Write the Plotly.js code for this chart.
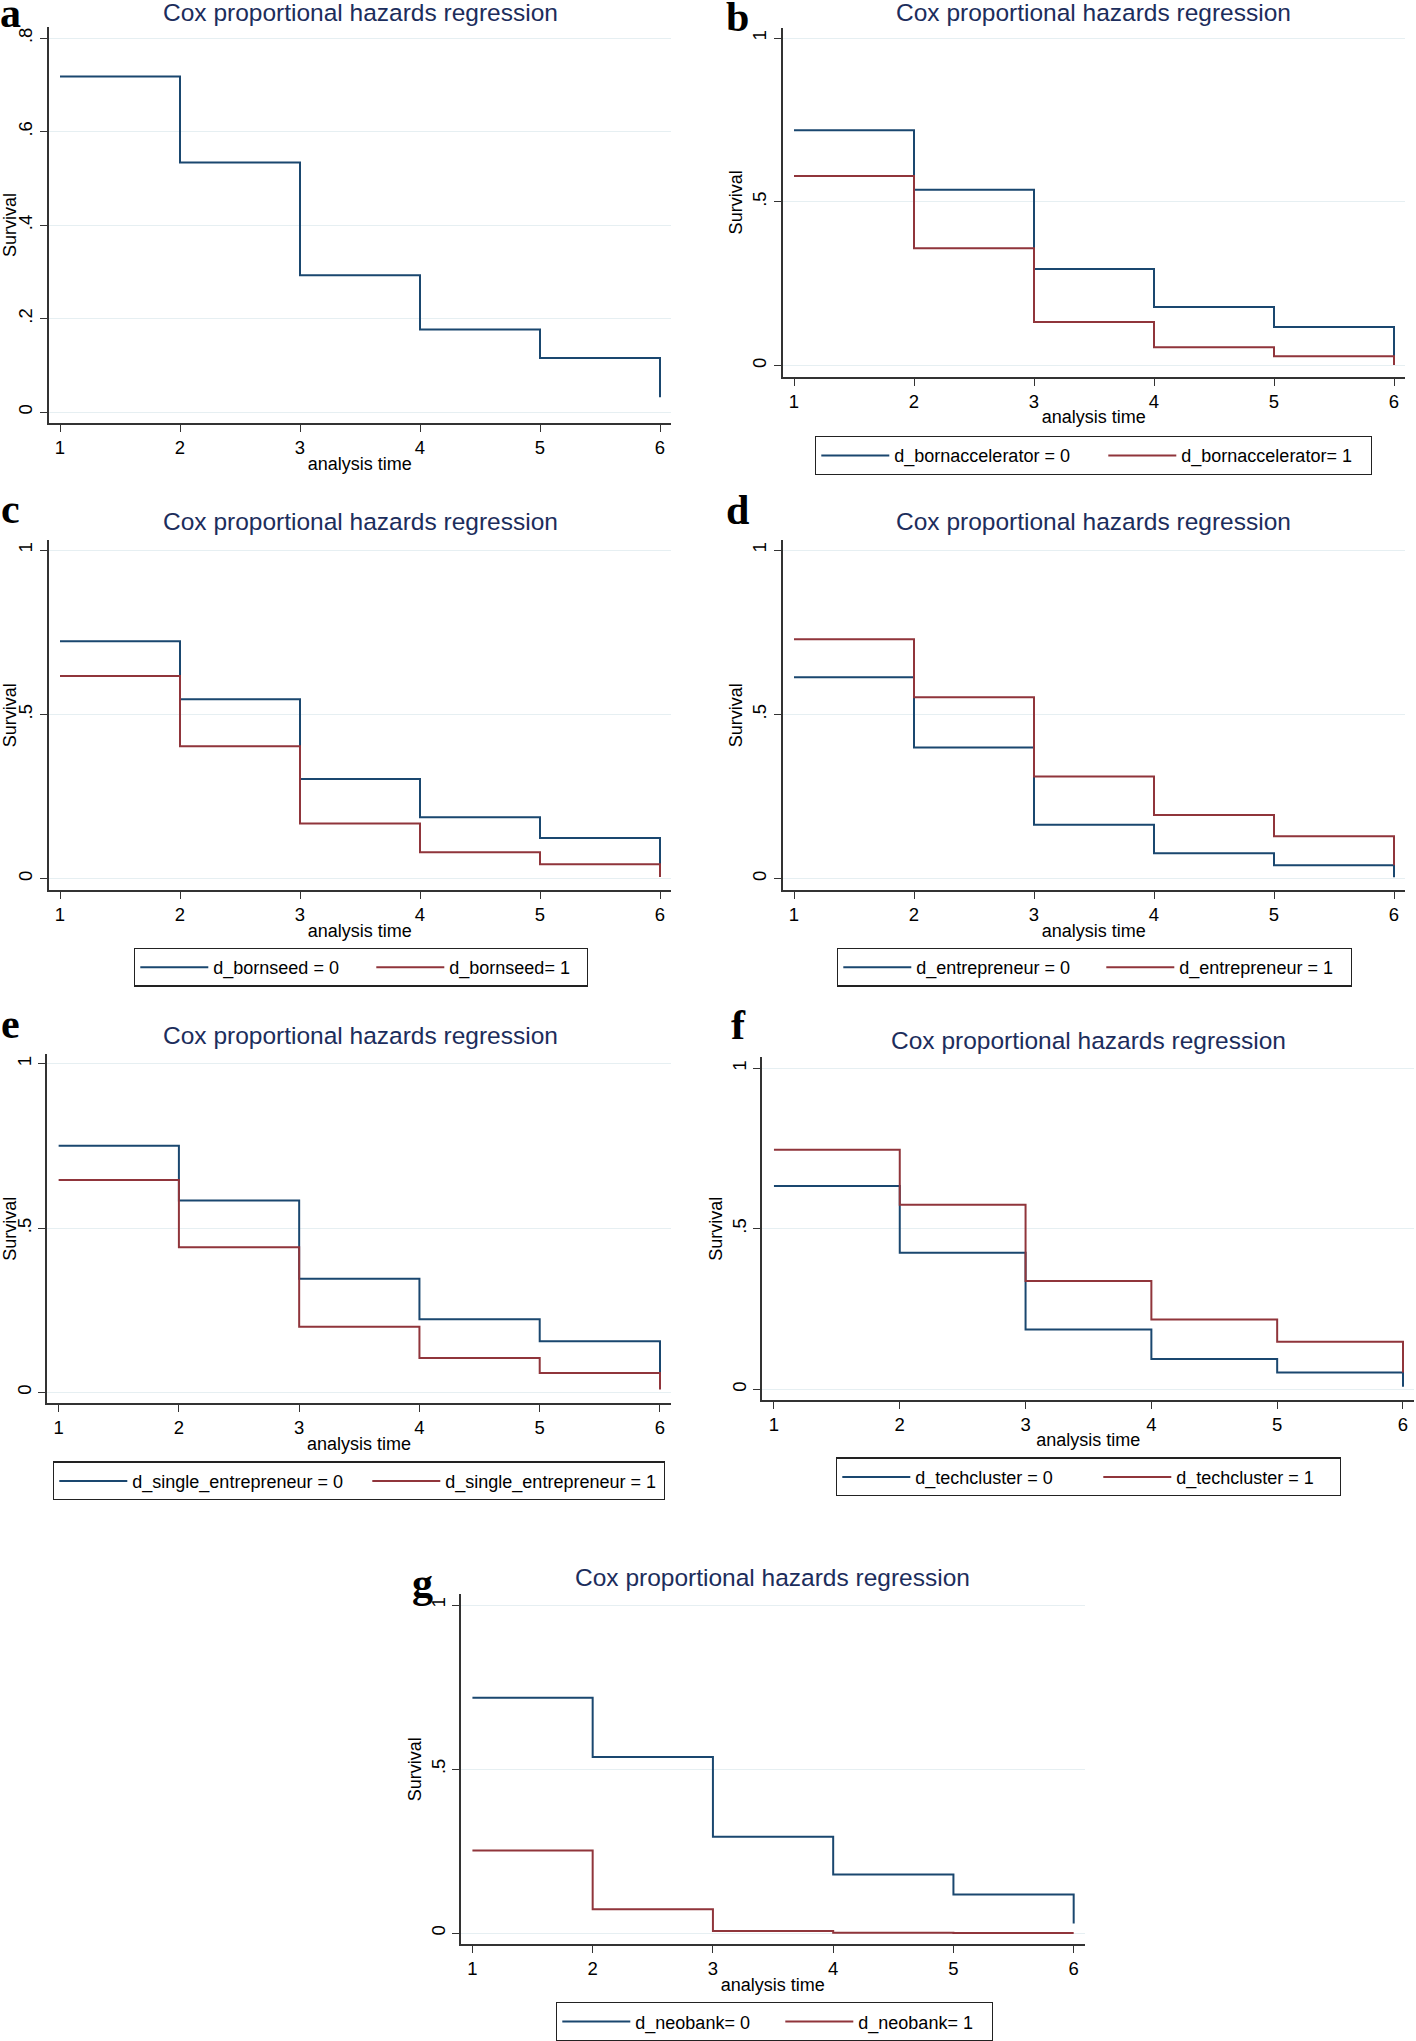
<!DOCTYPE html>
<html><head><meta charset="utf-8">
<script src="https://cdn.plot.ly/plotly-3.0.1.min.js"></script>
<style>html,body{margin:0;padding:0;background:#fff}#chart{width:1416px;height:2041px}</style>
</head><body><div id="chart"></div>
<script>
// ---- data ----
const times = [1, 2, 3, 4, 5, 6];
const xTickLabels = ['1', '2', '3', '4', '5', '6'];
const survAll = [0.718, 0.534, 0.293, 0.177, 0.116, 0.032];
const bornAccel0 = [0.719, 0.537, 0.295, 0.179, 0.118, 0.004];
const bornAccel1 = [0.579, 0.358, 0.133, 0.056, 0.029, 0.002];
const bornSeed0 = [0.723, 0.546, 0.303, 0.187, 0.124, 0.044];
const bornSeed1 = [0.617, 0.403, 0.168, 0.080, 0.044, 0.005];
const entrepreneur0 = [0.613, 0.399, 0.164, 0.077, 0.041, 0.004];
const entrepreneur1 = [0.729, 0.552, 0.311, 0.194, 0.129, 0.041];
const singleEntr0 = [0.751, 0.584, 0.346, 0.223, 0.156, 0.059];
const singleEntr1 = [0.647, 0.442, 0.200, 0.105, 0.059, 0.009];
const techCluster0 = [0.633, 0.425, 0.186, 0.094, 0.052, 0.008];
const techCluster1 = [0.746, 0.575, 0.337, 0.217, 0.148, 0.052];
const neobank0 = [0.718, 0.537, 0.294, 0.179, 0.118, 0.029];
const neobank1 = [0.252, 0.073, 0.006, 0.001, 0.000, 0.000];
const yTicksA = [0, 0.2, 0.4, 0.6, 0.8];
const yTickLabelsA = ['0', '.2', '.4', '.6', '.8'];
const yTicks = [0, 0.5, 1];
const yTickLabels = ['0', '.5', '1'];
const titleText = 'Cox proportional hazards regression';
const xTitle = 'analysis time';
const yTitle = 'Survival';

// ---- styling ----
const W = 1416, H = 2041;
const BLUE = '#1a476f', RED = '#90353b', NAVY = '#1c2d5c';
const SANS = 'Liberation Sans, Arial, sans-serif';
const px = x => x / W, py = y => 1 - y / H;

const panels = [
  {letter: 'a', xd: [48.6, 670.8], yd: [27, 424], yr: [-0.023, 0.824], yt: yTicksA, ytt: yTickLabelsA,
   title: [360.5, 13], lpos: [10, 13],
   series: [{y: survAll, c: BLUE, name: 'Survival'}], legend: null},
  {letter: 'b', xd: [782.6, 1404.8], yd: [28, 377.7], yr: [-0.034, 1.031], yt: yTicks, ytt: yTickLabels,
   title: [1093, 13], lpos: [737, 17],
   series: [{y: bornAccel0, c: BLUE, name: 'd_bornaccelerator = 0', w: 204},
            {y: bornAccel1, c: RED, name: 'd_bornaccelerator= 1', w: 184}],
   legend: {left: 815, top: 437}},
  {letter: 'c', xd: [48.6, 670.8], yd: [541.7, 892.3], yr: [-0.035, 1.030], yt: yTicks, ytt: yTickLabels,
   title: [360.5, 523], lpos: [10, 510],
   series: [{y: bornSeed0, c: BLUE, name: 'd_bornseed = 0', w: 153},
            {y: bornSeed1, c: RED, name: 'd_bornseed= 1', w: 132}],
   legend: {left: 134, top: 950}},
  {letter: 'd', xd: [782.6, 1404.8], yd: [541.7, 892.3], yr: [-0.035, 1.030], yt: yTicks, ytt: yTickLabels,
   title: [1093, 523], lpos: [737, 511],
   series: [{y: entrepreneur0, c: BLUE, name: 'd_entrepreneur = 0', w: 180},
            {y: entrepreneur1, c: RED, name: 'd_entrepreneur = 1', w: 166}],
   legend: {left: 837, top: 950}},
  {letter: 'e', xd: [47.2, 670.8], yd: [1056.7, 1406.7], yr: [-0.033, 1.030], yt: yTicks, ytt: yTickLabels,
   title: [360, 1038], lpos: [10, 1027],
   series: [{y: singleEntr0, c: BLUE, name: 'd_single_entrepreneur = 0', w: 230},
            {y: singleEntr1, c: RED, name: 'd_single_entrepreneur = 1', w: 213}],
   legend: {left: 53, top: 1465}},
  {letter: 'f', xd: [762, 1414.3], yd: [1060, 1403.3], yr: [-0.033, 1.034], yt: yTicks, ytt: yTickLabels,
   title: [1088, 1043], lpos: [738, 1028],
   series: [{y: techCluster0, c: BLUE, name: 'd_techcluster = 0', w: 178},
            {y: techCluster1, c: RED, name: 'd_techcluster = 1', w: 158}],
   legend: {left: 836, top: 1461}},
  {letter: 'g', xd: [461, 1084.5], yd: [1598.3, 1949], yr: [-0.034, 1.033], yt: yTicks, ytt: yTickLabels,
   title: [773, 1581], lpos: [422, 1587],
   series: [{y: neobank0, c: BLUE, name: 'd_neobank= 0', w: 140},
            {y: neobank1, c: RED, name: 'd_neobank= 1', w: 128}],
   legend: {left: 556, top: 2007}}
];

const data = [];
const layout = {
  width: W, height: H,
  margin: {l: 0, r: 0, t: 0, b: 0},
  paper_bgcolor: '#ffffff', plot_bgcolor: '#ffffff',
  font: {family: SANS, size: 18, color: '#000'},
  annotations: [], showlegend: true
};

let legendIdx = 0;
panels.forEach((p, i) => {
  const n = i === 0 ? '' : String(i + 1);
  const xa = 'xaxis' + n, ya = 'yaxis' + n;
  layout[xa] = {
    domain: [px(p.xd[0]), px(p.xd[1])], anchor: 'y' + n, range: [0.905, 6.09],
    tickmode: 'array', tickvals: times, ticktext: xTickLabels,
    ticks: 'outside', ticklen: 7, tickwidth: 1.3, tickcolor: '#333',
    showline: true, linecolor: '#333', linewidth: 1.5, showgrid: false, zeroline: false,
    tickfont: {family: SANS, size: 18.5, color: '#000'},
    title: {text: xTitle, font: {family: SANS, size: 18, color: '#000'}, standoff: 0},
    fixedrange: true
  };
  layout[ya] = {
    domain: [py(p.yd[1]), py(p.yd[0])], anchor: 'x' + n, range: p.yr,
    tickmode: 'array', tickvals: p.yt, ticktext: p.ytt, tickangle: -90,
    ticks: 'outside', ticklen: 7, tickwidth: 1.3, tickcolor: '#333',
    showline: true, linecolor: '#333', linewidth: 1.5,
    showgrid: true, gridcolor: '#e6eff2', gridwidth: 1.3, zeroline: false,
    tickfont: {family: SANS, size: 18.5, color: '#000'},
    title: {text: yTitle, font: {family: SANS, size: 18, color: '#000'}, standoff: 2},
    fixedrange: true
  };
  let lname = null;
  if (p.legend) {
    legendIdx += 1;
    lname = legendIdx === 1 ? 'legend' : 'legend' + legendIdx;
    layout[lname] = {
      x: px(p.legend.left), y: py(p.legend.top), xanchor: 'left', yanchor: 'top',
      orientation: 'h', bordercolor: '#222', borderwidth: 1.3, bgcolor: '#fff',
      font: {family: SANS, size: 18, color: '#000'}, itemwidth: 68, traceorder: 'normal',
      itemclick: false, itemdoubleclick: false
    };
  }
  p.series.forEach(s => {
    const tr = {
      type: 'scatter', mode: 'lines', x: times, y: s.y, name: s.name,
      line: {color: s.c, width: 2, shape: 'hv'},
      xaxis: 'x' + n, yaxis: 'y' + n, hoverinfo: 'x+y+name'
    };
    if (lname) { tr.legend = lname; tr.legendwidth = s.w; tr.showlegend = true; }
    else tr.showlegend = false;
    data.push(tr);
  });
  layout.annotations.push({
    xref: 'paper', yref: 'paper', x: px(p.title[0]), y: py(p.title[1]),
    xanchor: 'center', yanchor: 'middle', showarrow: false,
    text: titleText, font: {family: SANS, size: 24.5, color: NAVY}
  });
  layout.annotations.push({
    xref: 'paper', yref: 'paper', x: px(p.lpos[0]), y: py(p.lpos[1]),
    xanchor: 'center', yanchor: 'middle', showarrow: false,
    text: '<b>' + p.letter + '</b>', font: {family: 'Liberation Serif, Times New Roman, serif', size: 42, color: '#000'}
  });
});

Plotly.newPlot('chart', data, layout, {staticPlot: false, displayModeBar: false});
</script></body></html>
